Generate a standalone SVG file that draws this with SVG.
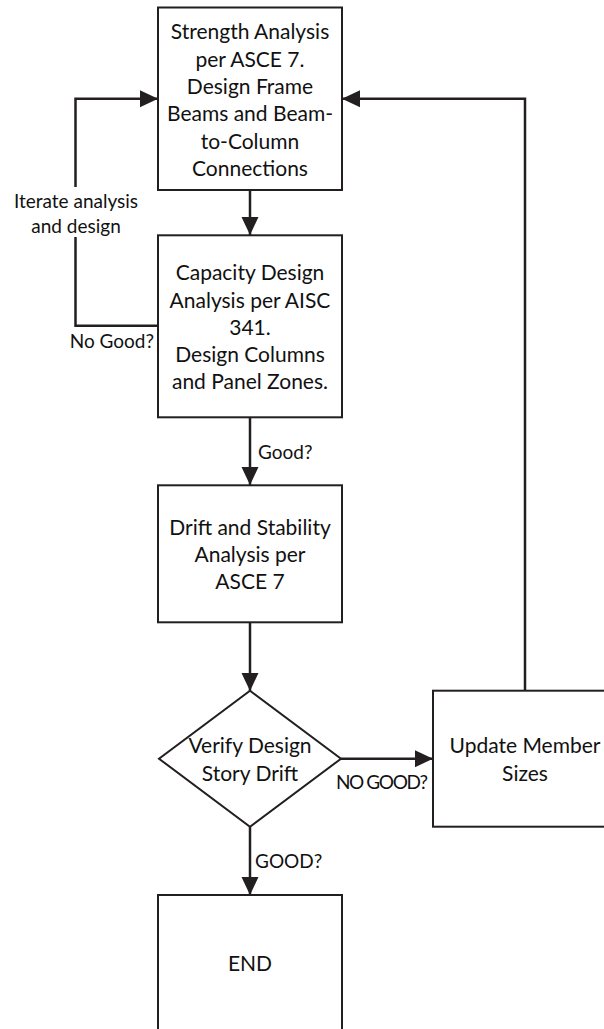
<svg xmlns="http://www.w3.org/2000/svg" width="604" height="1029" viewBox="0 0 604 1029">
<style>
.box{fill:#fff;stroke:#231f20;stroke-width:2}
.con{fill:none;stroke:#231f20;stroke-width:2.5}
.t{font-family:Lato,"Liberation Sans",sans-serif;font-size:21px;fill:#111;text-anchor:middle}
.l{font-family:Lato,"Liberation Sans",sans-serif;font-size:19px;fill:#111}
</style>
<defs>
<marker id="ah" markerUnits="userSpaceOnUse" markerWidth="18" markerHeight="18" viewBox="0 0 18 18" refX="18" refY="9" orient="auto">
<path d="M0,0.5 L18,9 L0,17.5 Z" fill="#231f20"/>
</marker>
</defs>
<rect width="604" height="1029" fill="#fff"/>
<g id="connectors">
<line class="con" x1="250" y1="190" x2="250" y2="235" marker-end="url(#ah)"/>
<line class="con" x1="250" y1="417" x2="250" y2="485" marker-end="url(#ah)"/>
<line class="con" x1="250" y1="622" x2="250" y2="691" marker-end="url(#ah)"/>
<line class="con" x1="250" y1="827" x2="250" y2="895" marker-end="url(#ah)"/>
<line class="con" x1="341" y1="758.7" x2="433" y2="758.7" marker-end="url(#ah)"/>
<path class="con" d="M525,691 V98.7 H342" marker-end="url(#ah)"/>
<path class="con" d="M158,325.7 H75.5 V237"/>
<path class="con" d="M75.5,187 V98.7 H158" marker-end="url(#ah)"/>
<text class="l" x="76" y="208" text-anchor="middle">Iterate analysis</text>
<text class="l" x="76" y="233" text-anchor="middle">and design</text>
<text class="l" x="154" y="348" text-anchor="end">No Good?</text>
<text class="l" x="258" y="459">Good?</text>
<text class="l" x="336" y="789" textLength="92">NO GOOD?</text>
<text class="l" x="255" y="868">GOOD?</text>
</g>
<g id="n1">
<rect class="box" x="158" y="7.5" width="184" height="182.5"/>
<text class="t" x="250" y="39">Strength Analysis</text>
<text class="t" x="250" y="66.5">per ASCE 7.</text>
<text class="t" x="250" y="94">Design Frame</text>
<text class="t" x="250" y="121">Beams and Beam-</text>
<text class="t" x="250" y="148.5">to-Column</text>
<text class="t" x="250" y="175.5">Connections</text>
</g>
<g id="n2">
<rect class="box" x="158" y="235.3" width="184" height="182"/>
<text class="t" x="250" y="280">Capacity Design</text>
<text class="t" x="250" y="307.5">Analysis per AISC</text>
<text class="t" x="250" y="335">341.</text>
<text class="t" x="250" y="361.5">Design Columns</text>
<text class="t" x="250" y="389">and Panel Zones.</text>
</g>
<g id="n3">
<rect class="box" x="158" y="485.3" width="184" height="137"/>
<text class="t" x="250" y="534.5">Drift and Stability</text>
<text class="t" x="250" y="562">Analysis per</text>
<text class="t" x="250" y="589">ASCE 7</text>
</g>
<g id="n4">
<polygon class="box" points="250,690.7 341,758.7 250,826.7 159,758.7"/>
<text class="t" x="250" y="753">Verify Design</text>
<text class="t" x="250" y="780.5">Story Drift</text>
</g>
<g id="n5">
<rect class="box" x="433" y="690.7" width="184" height="136"/>
<text class="t" x="525" y="753">Update Member</text>
<text class="t" x="525" y="780.5">Sizes</text>
</g>
<g id="n6">
<rect class="box" x="158" y="895" width="184" height="137"/>
<text class="t" x="250" y="971">END</text>
</g>
</svg>
